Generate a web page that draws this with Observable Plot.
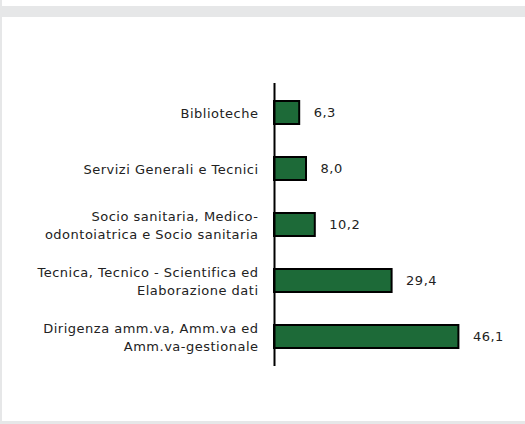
<!DOCTYPE html>
<html>
<head>
<meta charset="utf-8">
<script src="https://cdn.jsdelivr.net/npm/d3@7"></script>
<script src="https://cdn.jsdelivr.net/npm/@observablehq/plot@0.6"></script>
<style>
  html, body { margin: 0; padding: 0; background: #ffffff; }
  #wrap { position: relative; width: 525px; height: 424px; overflow: hidden; background: #ffffff; }
  #band { position: absolute; left: 0; top: 6px; width: 525px; height: 11px; background: #e6e7e8; }
  #left { position: absolute; left: 0; top: 0; width: 2px; height: 424px; background: #e6e7e8; }
  #bottom { position: absolute; left: 0; top: 421px; width: 525px; height: 3px; background: #e6e7e8; }
  #chart { position: absolute; left: 0; top: 0; }
  #chart svg text { letter-spacing: 0.5px; }
</style>
</head>
<body>
<div id="wrap">
  <div id="chart"></div>
  <div id="band"></div>
  <div id="left"></div>
  <div id="bottom"></div>
</div>
<script>
const categories = [
  "Biblioteche",
  "Servizi Generali e Tecnici",
  "Socio sanitaria, Medico-\nodontoiatrica e Socio sanitaria",
  "Tecnica, Tecnico - Scientifica ed\nElaborazione dati",
  "Dirigenza amm.va, Amm.va ed\nAmm.va-gestionale"
];
const values = [6.3, 8.0, 10.2, 29.4, 46.1];
const valueLabels = ["6,3", "8,0", "10,2", "29,4", "46,1"];

const data = categories.map((c, i) => ({cat: c, value: values[i], label: valueLabels[i]}));

const chart = Plot.plot({
  width: 525,
  height: 424,
  marginLeft: 274,
  marginRight: 51,
  marginTop: 83,
  marginBottom: 58,
  style: {fontFamily: "DejaVu Sans, sans-serif", fontSize: "13px", background: "transparent", color: "#222"},
  x: {domain: [0, 50], axis: null},
  y: {domain: categories, paddingInner: 0.594, paddingOuter: 0.297, axis: null},
  marks: [
    Plot.barX(data, {x: "value", y: "cat", fill: "#1d6a38", stroke: "#000", strokeWidth: 2}),
    Plot.text(data, {x: "value", y: "cat", text: "label", dx: 14, textAnchor: "start", fill: "#222", fontSize: 13}),
    Plot.text(data, {x: 0, y: "cat", text: "cat", dx: -16, dy: -1, textAnchor: "end", fill: "#222", fontSize: 13, lineHeight: 1.38}),
    Plot.ruleX([0], {stroke: "#000", strokeWidth: 2})
  ]
});
document.getElementById("chart").appendChild(chart);
</script>
</body>
</html>
